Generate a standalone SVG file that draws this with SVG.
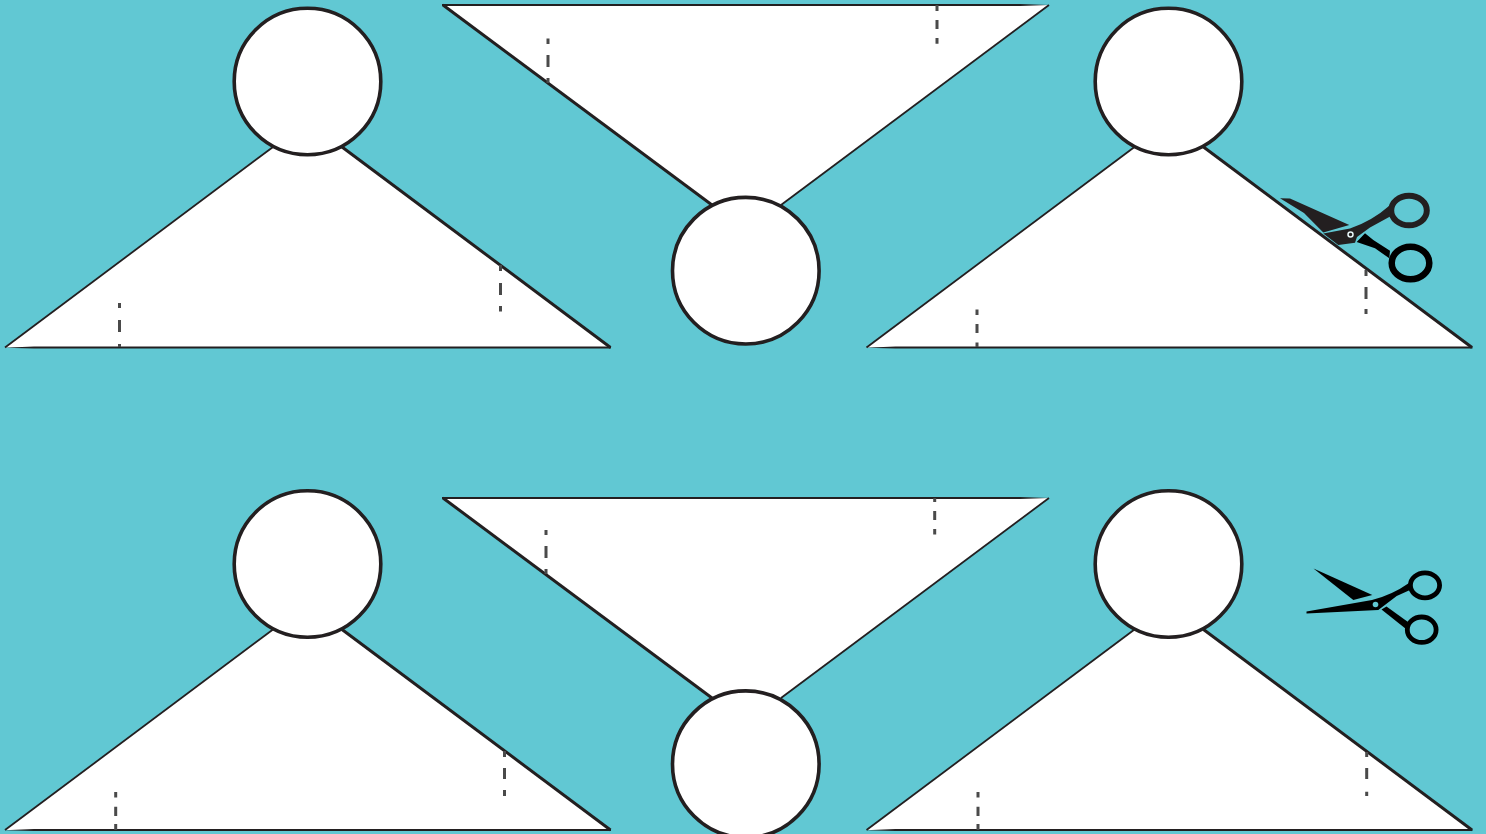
<svg xmlns="http://www.w3.org/2000/svg" width="1486" height="834" viewBox="0 0 1486 834">
<style>
.tri{fill:#fff;stroke:none}
.thin{fill:none;stroke:#231f20;stroke-width:1.800}
.thick{fill:none;stroke:#231f20;stroke-width:3}
.base{fill:#231f20;stroke:none}
.head{fill:#fff;stroke:#231f20;stroke-width:3.600}
.dash{fill:none;stroke:#4a4a4a;stroke-width:3}
.ring{fill:none;stroke:#000;stroke-width:4.800}
</style>
<defs>
<g id="up">
<path class="tri" d="M5,347.500 L273,147 L342,147 L610.500,347.500Z"/>
<path class="thin" d="M5,347.500 L273,147"/>
<path class="thick" d="M342,147 L610.500,347.500"/>
<path class="base" d="M4,347.800 L34,346.600 H611 V348.500 H34Z"/>
</g>
<g id="down">
<path class="tri" d="M443,5 H1049 L781,205 H712Z"/>
<path class="thick" d="M443,5 L712,205"/>
<path class="thin" d="M1049,5 L781,205"/>
<path class="base" d="M442,4 H1020 L1049,5 L1020,6 H442Z"/>
</g>
</defs>
<rect width="1486" height="834" fill="#61c8d3"/>
<g id="shape-top-left">
<use href="#up"/>
<path class="dash" d="M119.500,303 V308 M119.500,320 V332 M119.500,344 V347"/>
<path class="dash" d="M500.500,265 V271 M500.500,283 V295 M500.500,306 V311.500"/>
<circle class="head" cx="307.500" cy="81.500" r="73.300"/>
</g>
<g id="shape-top-middle">
<use href="#down"/>
<path class="dash" d="M548,38.500 V44 M548,55 V67 M548,78 V83"/>
<path class="dash" d="M937,5 V11 M937,20 V29 M937,38 V43.700"/>
<circle class="head" cx="745.800" cy="270.700" r="73.300"/>
</g>
<g id="shape-top-right">
<use href="#up" x="861.500"/>
<path class="dash" d="M977,309.500 V315 M977,324 V333 M977,342.500 V347"/>
<path class="dash" d="M1366,270 V276 M1366,287 V299 M1366,309 V314"/>
<circle class="head" cx="1168.500" cy="81.500" r="73.300"/>
</g>
<g id="shape-bottom-left">
<use href="#up" y="482.500"/>
<path class="dash" d="M115.700,792 V797.500 M115.700,806.700 V816 M115.700,824 V830"/>
<path class="dash" d="M504.500,751 V757 M504.500,768 V779 M504.500,790 V796"/>
<circle class="head" cx="307.500" cy="564" r="73.300"/>
</g>
<g id="shape-bottom-middle">
<use href="#down" y="493"/>
<path class="dash" d="M546,530 V535 M546,546 V558 M546,569 V574"/>
<path class="dash" d="M934.700,498 V502 M934.700,511 V520 M934.700,529 V534.500"/>
<circle class="head" cx="745.800" cy="764.200" r="73.300"/>
</g>
<g id="shape-bottom-right">
<use href="#up" x="861.500" y="482.500"/>
<path class="dash" d="M978,792 V797.500 M978,806.700 V816 M978,824 V830"/>
<path class="dash" d="M1366.700,752 V757 M1366.700,768 V779 M1366.700,791.700 V796"/>
<circle class="head" cx="1168.500" cy="564" r="73.300"/>
</g>
<g id="scissors-cutting">
<path fill="#231f20" d="M1280,198.300 L1290,198.500 L1349.300,225 L1323.300,232.500 L1304,213Z"/>
<path fill="#231f20" d="M1323.300,233.500 L1350,228.500 Q1372,221 1389,206 L1391,216 L1370,227.500 L1357,237 L1355,242.700 L1338.300,245Z"/>
<ellipse cx="1409" cy="210.500" rx="17.800" ry="14.800" fill="none" stroke="#231f20" stroke-width="6"/>
<path fill="#000" d="M1356.700,242 L1365,233.300 L1373.300,240 L1390,250.700 L1389.300,258.300 L1375,248.300Z"/>
<ellipse cx="1410.500" cy="263" rx="18.800" ry="16.300" fill="none" stroke="#000" stroke-width="6.500"/>
<circle cx="1350.500" cy="234.500" r="2.500" fill="#231f20" stroke="#e6f5f7" stroke-width="1.500"/>
</g>
<g id="scissors-open">
<path fill="#000" d="M1313.500,568.500 L1372.300,595 L1353.300,600Z"/>
<path fill="#000" d="M1306.500,611.500 L1372,600 Q1392,595 1409,583 L1410,590 L1396.700,596 L1378.300,610 L1306.500,613.500Z"/>
<ellipse class="ring" cx="1425" cy="585.300" rx="14.600" ry="12.500"/>
<path fill="#000" d="M1381.500,609.500 L1386.500,606.500 L1408,622 L1406,629Z"/>
<ellipse class="ring" cx="1421.700" cy="629.700" rx="14.400" ry="12.700"/>
<circle cx="1375.500" cy="604.500" r="2.800" fill="#61c8d3"/>
</g>
</svg>
